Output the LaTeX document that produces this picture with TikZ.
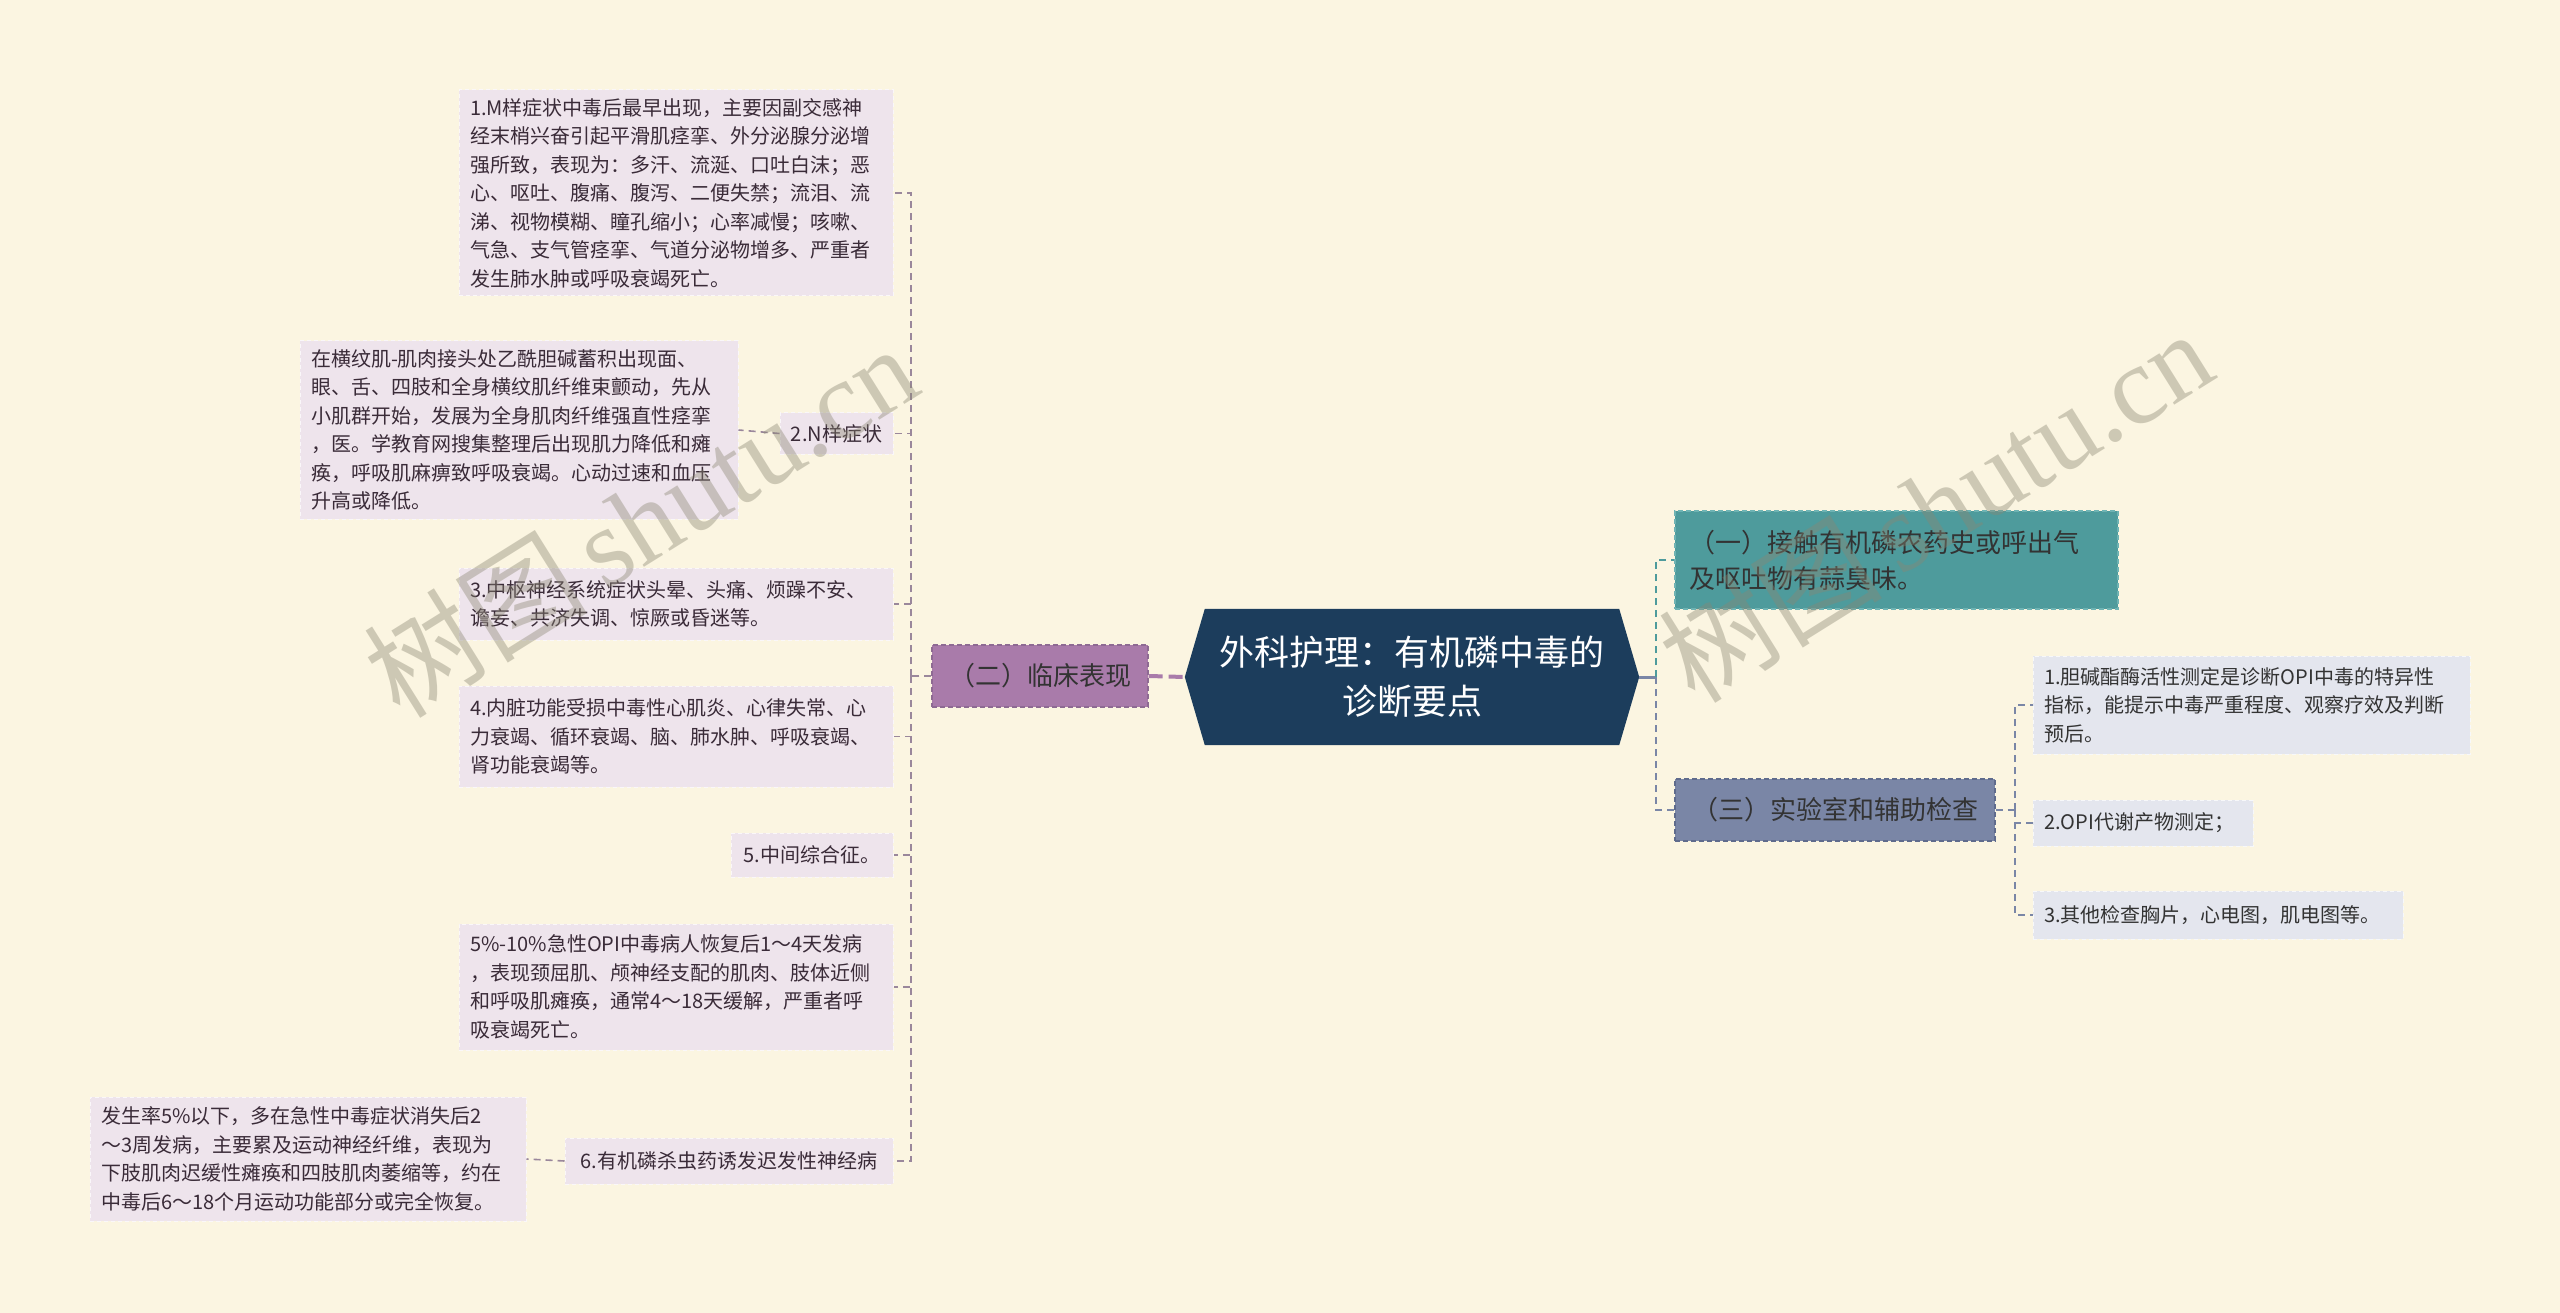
\documentclass[tikz,border=0pt]{standalone}
\usepackage{fontspec}
\setmainfont{Noto Sans CJK SC}
\newfontfamily\wmserif{Liberation Serif}
\usetikzlibrary{calc}
\definecolor{bgc}{HTML}{FBF5E1}
\definecolor{leafL}{HTML}{EEE4EC}
\definecolor{leafR}{HTML}{E4E6EE}
\definecolor{purp}{HTML}{A97BAA}
\definecolor{purpb}{HTML}{8E6A93}
\definecolor{rootc}{HTML}{1C3D5C}
\definecolor{tealc}{HTML}{4E9B9C}
\definecolor{tealb}{HTML}{6FB3B3}
\definecolor{slatec}{HTML}{7A86A6}
\definecolor{slateb}{HTML}{5F6B8C}
\definecolor{connl}{HTML}{9A879B}
\definecolor{txtc}{HTML}{3A2B38}
\definecolor{wmc}{HTML}{8A8672}
\newcommand\leaffont{\fontsize{20}{28.5}\selectfont}
\newcommand\midfont{\fontsize{26}{36}\selectfont}
\newcommand\rootfont{\fontsize{35}{49}\selectfont}
\begin{document}
\begin{tikzpicture}[x=1pt,y=-1pt,
  leafl/.style={fill=leafL, draw=white!70!leafL, dash pattern=on 4pt off 3pt, line width=1pt, inner sep=0pt, align=left, font=\leaffont, text=txtc},
  leafr/.style={leafl, fill=leafR, draw=white!70!leafR, text=black!80},
  midbox/.style={draw, dash pattern=on 5pt off 3pt, line width=1.2pt, inner sep=0pt, align=left, font=\midfont, text=black!80},
  connL/.style={draw=connl, line width=1.6pt, dash pattern=on 7pt off 5pt},
  connT/.style={draw=tealc, line width=1.6pt, dash pattern=on 7pt off 5pt},
  connS/.style={draw=slatec, line width=1.6pt, dash pattern=on 7pt off 5pt},
  wm/.style={text=wmc, text opacity=0.4, font=\fontsize{112}{112}\selectfont, inner sep=0pt}
]
\fill[bgc] (0,0) rectangle (2560,1313);
\useasboundingbox (0,0) rectangle (2560,1313);

% root
\path node[minimum width=454pt, minimum height=136pt, inner sep=0pt] (root) at (1412,677) {};
\fill[rootc] (root.west) -- ($(root.north west)+(20,0)$) -- ($(root.north east)+(-20,0)$) -- (root.east) -- ($(root.south east)+(-20,0)$) -- ($(root.south west)+(20,0)$) -- cycle;
\node[text=white, font=\rootfont, align=center, inner sep=0pt] (roottext) at (root.center) {外科护理：有机磷中毒的\\诊断要点};

% level 1
\node[midbox, fill=purp, draw=purpb, minimum width=216pt, minimum height=62pt, align=center] (er) at (1040,676) {（二）临床表现};
\node[midbox, fill=tealc, draw=tealb, minimum width=443pt, minimum height=98pt, text width=415pt] (yi) at (1896.5,560) {（一）接触有机磷农药史或呼出气\\及呕吐物有蒜臭味。};
\node[midbox, fill=slatec, draw=slateb, minimum width=320pt, minimum height=62pt, align=center] (san) at (1835,810) {（三）实验室和辅助检查};

% left leaves
\node[leafl, minimum width=434pt, minimum height=206pt, text width=412pt] (l1) at (676,193) {1.M样症状中毒后最早出现，主要因副交感神\\经末梢兴奋引起平滑肌痉挛、外分泌腺分泌增\\强所致，表现为：多汗、流涎、口吐白沫；恶\\心、呕吐、腹痛、腹泻、二便失禁；流泪、流\\涕、视物模糊、瞳孔缩小；心率减慢；咳嗽、\\气急、支气管痉挛、气道分泌物增多、严重者\\发生肺水肿或呼吸衰竭死亡。};
\node[leafl, minimum width=113pt, minimum height=41pt, align=center] (l2) at (836.5,433.5) {2.N样症状};
\node[leafl, minimum width=438pt, minimum height=178pt, text width=416pt] (l2c) at (519,430) {在横纹肌-肌肉接头处乙酰胆碱蓄积出现面、\\眼、舌、四肢和全身横纹肌纤维束颤动，先从\\小肌群开始，发展为全身肌肉纤维强直性痉挛\\，医。学教育网搜集整理后出现肌力降低和瘫\\痪，呼吸肌麻痹致呼吸衰竭。心动过速和血压\\升高或降低。};
\node[leafl, minimum width=434pt, minimum height=72pt, text width=412pt] (l3) at (676,604) {3.中枢神经系统症状头晕、头痛、烦躁不安、\\谵妄、共济失调、惊厥或昏迷等。};
\node[leafl, minimum width=434pt, minimum height=101pt, text width=412pt] (l4) at (676,736.5) {4.内脏功能受损中毒性心肌炎、心律失常、心\\力衰竭、循环衰竭、脑、肺水肿、呼吸衰竭、\\肾功能衰竭等。};
\node[leafl, minimum width=162pt, minimum height=44pt, align=center] (l5) at (812,855) {5.中间综合征。};
\node[leafl, minimum width=434pt, minimum height=126pt, text width=412pt] (l6) at (676,987) {5\%-10\%急性OPI中毒病人恢复后1～4天发病\\，表现颈屈肌、颅神经支配的肌肉、肢体近侧\\和呼吸肌瘫痪，通常4～18天缓解，严重者呼\\吸衰竭死亡。};
\node[leafl, minimum width=328pt, minimum height=46pt, align=center] (l7) at (729,1161) {6.有机磷杀虫药诱发迟发性神经病};
\node[leafl, minimum width=436pt, minimum height=124pt, text width=414pt] (l7c) at (308,1159) {发生率5\%以下，多在急性中毒症状消失后2\\～3周发病，主要累及运动神经纤维，表现为\\下肢肌肉迟缓性瘫痪和四肢肌肉萎缩等，约在\\中毒后6～18个月运动功能部分或完全恢复。};

% right leaves
\node[leafr, minimum width=437pt, minimum height=98pt, text width=415pt] (c1) at (2251.5,705) {1.胆碱酯酶活性测定是诊断OPI中毒的特异性\\指标，能提示中毒严重程度、观察疗效及判断\\预后。};
\node[leafr, minimum width=220pt, minimum height=46pt, text width=198pt] (c2) at (2143,823) {2.OPI代谢产物测定；};
\node[leafr, minimum width=370pt, minimum height=48pt, text width=348pt] (c3) at (2218,915) {3.其他检查胸片，心电图，肌电图等。};

% connectors
\coordinate (ls) at (911,676);
\coordinate (rs) at (1656,677);
\coordinate (ts) at (2015,810);
\draw[draw=purp, line width=4pt, dash pattern=on 14pt off 6pt] (er.east) -- (root.west);
\draw[draw=slatec, line width=3pt] (root.east) -- (rs);
\draw[connL] (er.west) -- (ls);
\foreach \n in {l1,l2,l3,l4,l5,l6,l7} {\draw[connL] (ls) |- (\n.east);}
\draw[connL] (l2.west) -- (l2c.east);
\draw[connL] (l7.west) -- (l7c.east);
\draw[connT] (rs) |- (yi.west);
\draw[connS] (rs) |- (san.west);
\draw[connS] (san.east) -- (ts);
\foreach \n in {c1,c2,c3} {\draw[connS] (ts) |- (\n.west);}

% watermarks
\node[wm, rotate=32] (wm1) at (640,520) {树图\,{\wmserif shutu.cn}};
\node[wm, rotate=32] (wm2) at (1935,505) {树图\,{\wmserif shutu.cn}};
\end{tikzpicture}
\end{document}
